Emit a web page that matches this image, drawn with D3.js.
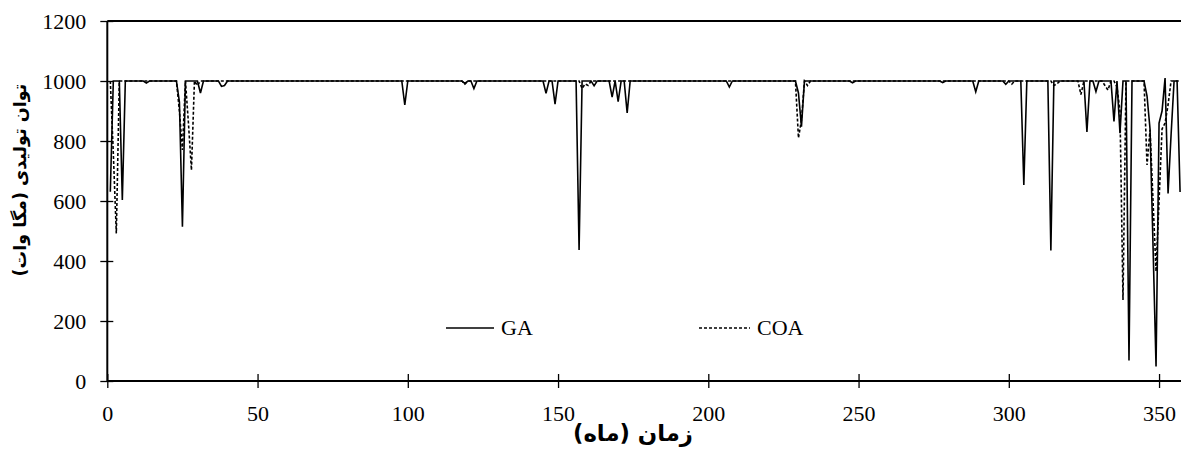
<!DOCTYPE html>
<html>
<head>
<meta charset="utf-8">
<script src="https://cdn.jsdelivr.net/npm/d3@7"></script>
<style>
  html, body { margin: 0; padding: 0; background: #fff; overflow: hidden; }
  svg { display: block; }
</style>
</head>
<body>
<svg id="chart" width="1181" height="449"></svg>
<script>
// ---- data ----
const firstMonth = 1;
const lastMonth = 357;
const baselineMW = 1000;           // flat level of both series
// GA deviations from 1000 MW: [month, MW]
const gaMonths = [1, 5, 13, 24, 25, 31, 38, 39, 99, 119, 122, 146, 149, 157, 162, 168, 170, 173,
  207, 230, 231, 248, 278, 289, 299, 305, 314, 326, 329, 335, 337, 340, 346, 347, 348, 349,
  350, 351, 352, 353, 354, 357];
const gaValues = [631, 603, 993, 930, 514, 960, 982, 985, 920, 992, 975, 959, 923, 437, 984, 946, 931, 894,
  980, 960, 848, 994, 995, 964, 989, 653, 435, 830, 965, 865, 826, 68, 950, 840, 450, 48,
  860, 900, 1010, 625, 820, 630];
// COA deviations from 1000 MW
const coaMonths = [2, 3, 24, 25, 27, 28, 30, 119, 158, 159, 160, 230, 231, 233, 301, 315, 316, 324,
  332, 333, 336, 337, 338, 346, 347, 348, 349, 350, 351, 352, 353];
const coaValues = [760, 492, 900, 770, 860, 703, 985, 990, 975, 990, 985, 810, 870, 985, 990, 985, 990, 955,
  985, 970, 980, 900, 270, 720, 837, 600, 365, 600, 840, 860, 920];

const xTicks = [0, 50, 100, 150, 200, 250, 300, 350];
const yTicks = [0, 200, 400, 600, 800, 1000, 1200];
const seriesNames = ["GA", "COA"];
const xTitle = "زمان (ماه)";
const yTitle = "توان تولیدی (مگا وات)";

// ---- build series ----
function buildSeries(months, values) {
  const m = new Map(months.map((d, i) => [d, values[i]]));
  return d3.range(firstMonth, lastMonth + 1).map(t => ({ t, v: m.has(t) ? m.get(t) : baselineMW }));
}
const ga = buildSeries(gaMonths, gaValues);
const coa = buildSeries(coaMonths, coaValues);

// ---- layout ----
const svg = d3.select("#chart");
const x = d3.scaleLinear().domain([0, 360]).range([107.3, 1189.1]);
const y = d3.scaleLinear().domain([0, 1200]).range([381, 21]);
const tickFont = "'Liberation Serif', 'Times New Roman', serif";

const line = d3.line().x(d => x(d.t)).y(d => y(d.v));

// series
svg.append("path").datum(coa)
  .attr("d", line).attr("fill", "none").attr("stroke", "#000")
  .attr("stroke-width", 1.6).attr("stroke-dasharray", "3,2");
svg.append("path").datum(ga)
  .attr("d", line).attr("fill", "none").attr("stroke", "#000")
  .attr("stroke-width", 1.6);

// frame top
svg.append("line").attr("x1", x(0)).attr("x2", x(360)).attr("y1", y(1200)).attr("y2", y(1200))
  .attr("stroke", "#000").attr("stroke-width", 2);

// axes
const yAxis = d3.axisLeft(y).tickValues(yTicks).tickSize(0).tickPadding(21).tickFormat(d3.format("d"));
const gy = svg.append("g").attr("transform", `translate(${x(0)},0)`).call(yAxis);
const xAxis = d3.axisBottom(x).tickValues(xTicks).tickSize(0).tickPadding(24).tickFormat(d3.format("d"));
const gx = svg.append("g").attr("transform", `translate(0,${y(0)})`).call(xAxis);

[gx, gy].forEach(g => {
  g.select(".domain").attr("stroke", "#000").attr("stroke-width", 2);
  g.selectAll("text").attr("font-family", tickFont).attr("font-size", 22).attr("fill", "#000");
});
gy.select(".domain").attr("d", `M0,${y(0)}V${y(1200)}`);
gx.select(".domain").attr("d", `M${x(0)},0H${x(360)}`);

// cross ticks
gy.selectAll(".tick").append("line").attr("x1", -7).attr("x2", 6).attr("stroke", "#000").attr("stroke-width", 1.3);
gx.selectAll(".tick").append("line").attr("y1", -7).attr("y2", 7).attr("stroke", "#000").attr("stroke-width", 1.3);

// legend
const legend = svg.append("g");
legend.append("line").attr("x1", 446).attr("x2", 494).attr("y1", 328).attr("y2", 328)
  .attr("stroke", "#000").attr("stroke-width", 1.6);
legend.append("text").attr("x", 501).attr("y", 335).text(seriesNames[0])
  .attr("font-family", tickFont).attr("font-size", 22);
legend.append("line").attr("x1", 699).attr("x2", 750).attr("y1", 328).attr("y2", 328)
  .attr("stroke", "#000").attr("stroke-width", 1.6).attr("stroke-dasharray", "3,2");
legend.append("text").attr("x", 757).attr("y", 335).text(seriesNames[1])
  .attr("font-family", tickFont).attr("font-size", 22);

// titles
const titleFont = "'DejaVu Sans', sans-serif";
function fitText(sel, width) {
  sel.attr("font-size", 20);
  const w = sel.node().getComputedTextLength();
  sel.attr("font-size", 20 * width / w);
}
const xt = svg.append("text").attr("x", 633).attr("y", 441).attr("text-anchor", "middle")
  .attr("font-family", titleFont).attr("font-weight", "bold").attr("direction", "rtl")
  .attr("text-anchor", "middle").text(xTitle);
fitText(xt, 120);
const yt = svg.append("text").attr("transform", "translate(26,180) rotate(-90)")
  .attr("text-anchor", "middle").attr("font-family", titleFont).attr("font-weight", "bold")
  .attr("direction", "rtl").text(yTitle);
fitText(yt, 193);
</script>
</body>
</html>
